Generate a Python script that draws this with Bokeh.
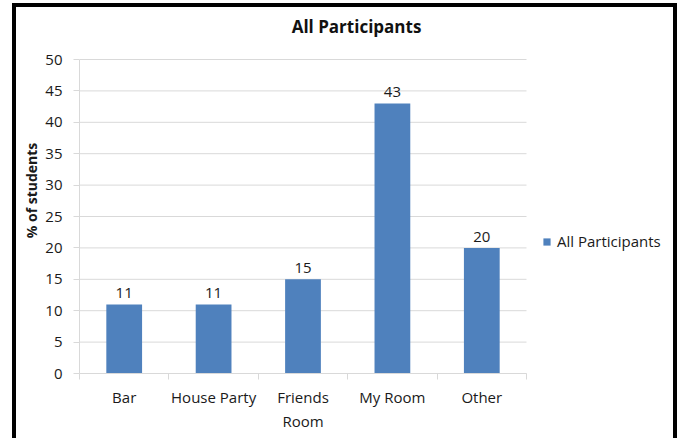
from bokeh.plotting import figure
from bokeh.models import (ColumnDataSource, FixedTicker, Range1d, Legend, LegendItem, LabelSet, Label)
from bokeh.core.properties import value
from bokeh.embed import file_html
from bokeh.resources import INLINE

categories = ["Bar", "House Party", "Friends\nRoom", "My Room", "Other"]
values = [11, 11, 15, 43, 20]
series_name = "All Participants"
chart_title = "All Participants"
y_label = "% of students"
y_ticks = [0, 5, 10, 15, 20, 25, 30, 35, 40, 45, 50]

FONT = "Open Sans"
BAR = "#4F81BD"
GRID = "#D9D9D9"
TXT = "#1a1a1a"

n = len(categories)
y_max = 50
# plot-area geometry (pixels): value area is 447 x 314 inside a 602 x 366 frame
x_end = n * 602 / 447
y_end = y_max * 366 / 314

xs = [i + 0.5 for i in range(n)]
src = ColumnDataSource(dict(x=xs, top=values, lbl=[str(v) for v in values]))
grid_src = ColumnDataSource(dict(y=y_ticks, x0=[0] * len(y_ticks), x1=[n] * len(y_ticks)))

p = figure(width=665, height=435, output_backend="svg", toolbar_location=None,
           x_range=Range1d(0, x_end), y_range=Range1d(0, y_end),
           min_border_left=63, min_border_right=0, min_border_top=0, min_border_bottom=69)
p.margin = (3, 0, 0, 12)
p.styles = {"border-left": "4px solid black", "border-right": "4px solid black",
            "border-top": "4px solid black", "box-sizing": "border-box"}
p.outline_line_color = None
p.background_fill_color = "white"
p.border_fill_color = "white"
p.xgrid.grid_line_color = None
p.ygrid.grid_line_color = None

# horizontal gridlines limited to the value area
p.segment(x0="x0", x1="x1", y0="y", y1="y", source=grid_src, line_color=GRID, line_width=1)

r = p.vbar(x="x", top="top", width=0.4, source=src, fill_color=BAR, line_color=None)

labels = LabelSet(x="x", y="top", text="lbl", source=src, text_align="center",
                  text_baseline="bottom", y_offset=6, text_font=value(FONT),
                  text_font_size="15px", text_color=TXT)
p.add_layout(labels)

# axes
xa = p.xaxis[0]
xa.bounds = (0, n)
xa.ticker = FixedTicker(ticks=xs, minor_ticks=list(range(n + 1)))
xa.major_label_overrides = {x: c for x, c in zip(xs, categories)}
xa.major_tick_line_color = None
xa.major_tick_out = 0
xa.major_tick_in = 0
xa.minor_tick_out = 6
xa.minor_tick_in = 0
xa.minor_tick_line_color = GRID
xa.axis_line_color = GRID
xa.major_label_standoff = 7
xa.major_label_text_font = FONT
xa.major_label_text_font_size = "15px"
xa.major_label_text_color = TXT

ya = p.yaxis[0]
ya.bounds = (0, y_max)
ya.ticker = FixedTicker(ticks=y_ticks)
ya.axis_line_color = GRID
ya.major_tick_line_color = GRID
ya.major_tick_out = 6
ya.major_tick_in = 0
ya.minor_tick_line_color = None
ya.major_label_standoff = 11
ya.major_label_text_font = FONT
ya.major_label_text_font_size = "15px"
ya.major_label_text_color = TXT
ya.axis_label = y_label
ya.axis_label_text_font = FONT
ya.axis_label_text_font_size = "14px"
ya.axis_label_text_font_style = "bold"
ya.axis_label_text_color = TXT
ya.axis_label_standoff = 1

# title
title = Label(x=277, y=347, x_units="screen", y_units="screen", text=chart_title,
              text_align="center", text_baseline="alphabetic",
              text_font=FONT, text_font_size="17px", text_font_style="bold",
              text_color="#111111")
p.add_layout(title)

# legend
legend = Legend(items=[LegendItem(label=series_name, renderers=[r])],
                location=(463, 122), orientation="vertical",
                padding=0, margin=0, spacing=0,
                glyph_width=9, glyph_height=9, label_standoff=6,
                label_text_font=FONT, label_text_font_size="15px",
                label_text_color=TXT,
                border_line_color=None, background_fill_alpha=0)
p.add_layout(legend, "center")

open("out.html", "w").write(file_html(p, INLINE))
